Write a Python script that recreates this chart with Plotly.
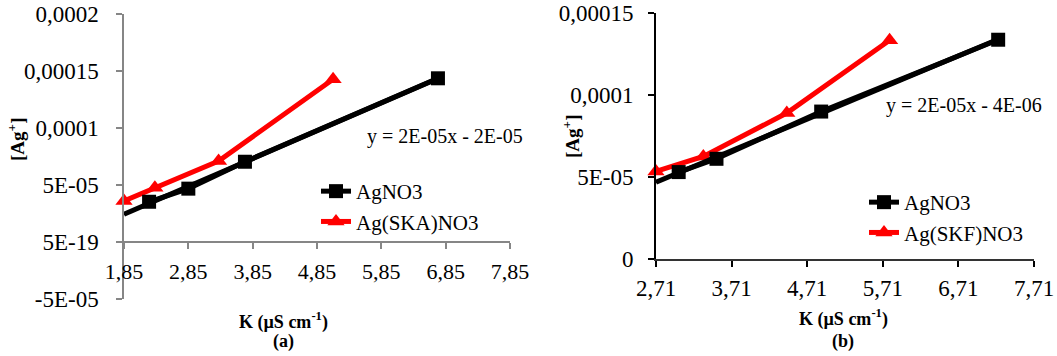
import numpy as np
import plotly.graph_objects as go

# ---------------- data ----------------
# Panel (a)
kA_agno3 = [2.24, 2.85, 3.73, 6.73]
cA_agno3 = [3.53e-5, 4.68e-5, 7.04e-5, 1.436e-4]
kA_ska = [1.85, 2.33, 3.32, 5.10]
cA_ska = [3.6e-5, 4.76e-5, 7.1e-5, 1.427e-4]
eqA = "y = 2E-05x - 2E-05"
yticksA = [-5e-5, 0, 5e-5, 1e-4, 1.5e-4, 2e-4]
ytextA = ["-5E-05", "5E-19", "5E-05", "0,0001", "0,00015", "0,0002"]
xstartA = 1.85

# Panel (b)
kB_agno3 = [3.01, 3.51, 4.895, 7.236]
cB_agno3 = [5.30e-5, 6.11e-5, 8.99e-5, 1.337e-4]
kB_skf = [2.71, 3.336, 4.44, 5.80]
cB_skf = [5.34e-5, 6.25e-5, 8.9e-5, 1.334e-4]
eqB = "y = 2E-05x - 4E-06"
yticksB = [0, 5e-5, 1e-4, 1.5e-4]
ytextB = ["0", "5E-05", "0,0001", "0,00015"]
xstartB = 2.71

W, H = 1057, 356
FONT = "Liberation Serif"
def px(x):
    return x / W
def py(y):
    return 1 - y / H

fig = go.Figure()

def add_panel(k1, c1, k2, c2, name2, xs, xa, ya, legend):
    # red series first (drawn below black)
    fig.add_trace(go.Scatter(x=k2, y=c2, mode="lines+markers", name=name2,
                             line=dict(color="#ff0000", width=5),
                             marker=dict(symbol="triangle-up", size=15, color="#ff0000"),
                             xaxis=xa, yaxis=ya, legend=legend, legendrank=2,
                             cliponaxis=False))
    # linear trendline of AgNO3 (backward-extended to the axis start)
    m, b = np.polyfit(k1, c1, 1)
    tx = np.array([xs, max(k1)])
    fig.add_trace(go.Scatter(x=tx, y=m * tx + b, mode="lines", showlegend=False,
                             line=dict(color="black", width=5), hoverinfo="skip",
                             xaxis=xa, yaxis=ya))
    fig.add_trace(go.Scatter(x=k1, y=c1, mode="lines+markers", name="AgNO3",
                             line=dict(color="black", width=5),
                             marker=dict(symbol="square", size=14, color="black"),
                             xaxis=xa, yaxis=ya, legend=legend, legendrank=1,
                             cliponaxis=False))

add_panel(kA_agno3, cA_agno3, kA_ska, cA_ska, "Ag(SKA)NO3", xstartA, "x", "y", "legend")
add_panel(kB_agno3, cB_agno3, kB_skf, cB_skf, "Ag(SKF)NO3", xstartB, "x2", "y2", "legend2")

gray = "#868686"
yA_dom = [py(299), py(14)]
zero_frac = (0 - (-5e-5)) / (2e-4 - (-5e-5))
fig.update_layout(
    xaxis=dict(domain=[px(124), px(510)], range=[1.85, 7.85], tick0=1.85, dtick=1,
               tickformat=".2f", anchor="free", automargin=False,
               position=yA_dom[0] + zero_frac * (yA_dom[1] - yA_dom[0]),
               showline=True, linecolor=gray, linewidth=1.5, ticks="outside",
               ticklen=6, tickcolor=gray, tickwidth=1.5, showgrid=False, zeroline=False,
               tickfont=dict(family=FONT, size=22, color="black"), ticklabelstandoff=4),
    yaxis=dict(domain=yA_dom, range=[-5e-5, 2e-4], tickvals=yticksA, ticktext=ytextA,
               anchor="x", automargin=False, showline=True, linecolor=gray, linewidth=1.5,
               ticks="outside",
               ticklen=6, tickcolor=gray, tickwidth=1.5, showgrid=False, zeroline=False,
               tickfont=dict(family=FONT, size=23, color="black"), ticklabelstandoff=13),
    xaxis2=dict(domain=[px(656), px(1034)], range=[2.71, 7.71], tick0=2.71, dtick=1,
                tickformat=".2f", anchor="y2", automargin=False,
                showline=True, linecolor="#333333", linewidth=2, ticks="outside",
                ticklen=6, tickcolor="black", tickwidth=1.5, showgrid=False, zeroline=False,
                tickfont=dict(family=FONT, size=23, color="black"), ticklabelstandoff=1),
    yaxis2=dict(domain=[py(259), py(13)], range=[0, 1.5e-4], tickvals=yticksB, ticktext=ytextB,
                anchor="x2", automargin=False, showline=True, linecolor="black", linewidth=2,
                ticks="outside",
                ticklen=6, tickcolor="black", tickwidth=1.5, showgrid=False, zeroline=False,
                tickfont=dict(family=FONT, size=23, color="black"), ticklabelstandoff=10),
)

legfont = dict(family=FONT, size=21, color="black")
fig.update_layout(
    legend=dict(x=px(316), y=py(171), xanchor="left", yanchor="top", font=legfont,
                bgcolor="rgba(0,0,0,0)", tracegroupgap=0),
    legend2=dict(x=px(864), y=py(182), xanchor="left", yanchor="top", font=legfont,
                 bgcolor="rgba(0,0,0,0)", tracegroupgap=0),
)

ann = []
def A(text, x, y, size, angle=0):
    ann.append(dict(text=text, x=px(x), y=py(y), xref="paper", yref="paper",
                    showarrow=False, xanchor="center", yanchor="middle",
                    font=dict(family=FONT, size=size, color="black"), textangle=angle))

A(eqA, 445, 136, 20)
A(eqB, 964, 105, 20)
A("<b>[Ag<sup>+</sup>]</b>", 16, 140, 19, -90)
A("<b>[Ag<sup>+</sup>]</b>", 571, 137, 19, -90)
A("<b>K (µS cm<sup>-1</sup>)</b>", 283, 321, 18)
A("<b>K (µS cm<sup>-1</sup>)</b>", 843, 318, 18)
A("<b>(a)</b>", 283, 341, 18)
A("<b>(b)</b>", 843, 341, 18)

fig.update_layout(annotations=ann, width=W, height=H,
                  margin=dict(l=0, r=0, t=0, b=0),
                  paper_bgcolor="white", plot_bgcolor="white",
                  separators=", ", font=dict(family=FONT))

fig.write_html("out.html", config={"displayModeBar": False},
               post_script="document.body.style.margin='0px';")
